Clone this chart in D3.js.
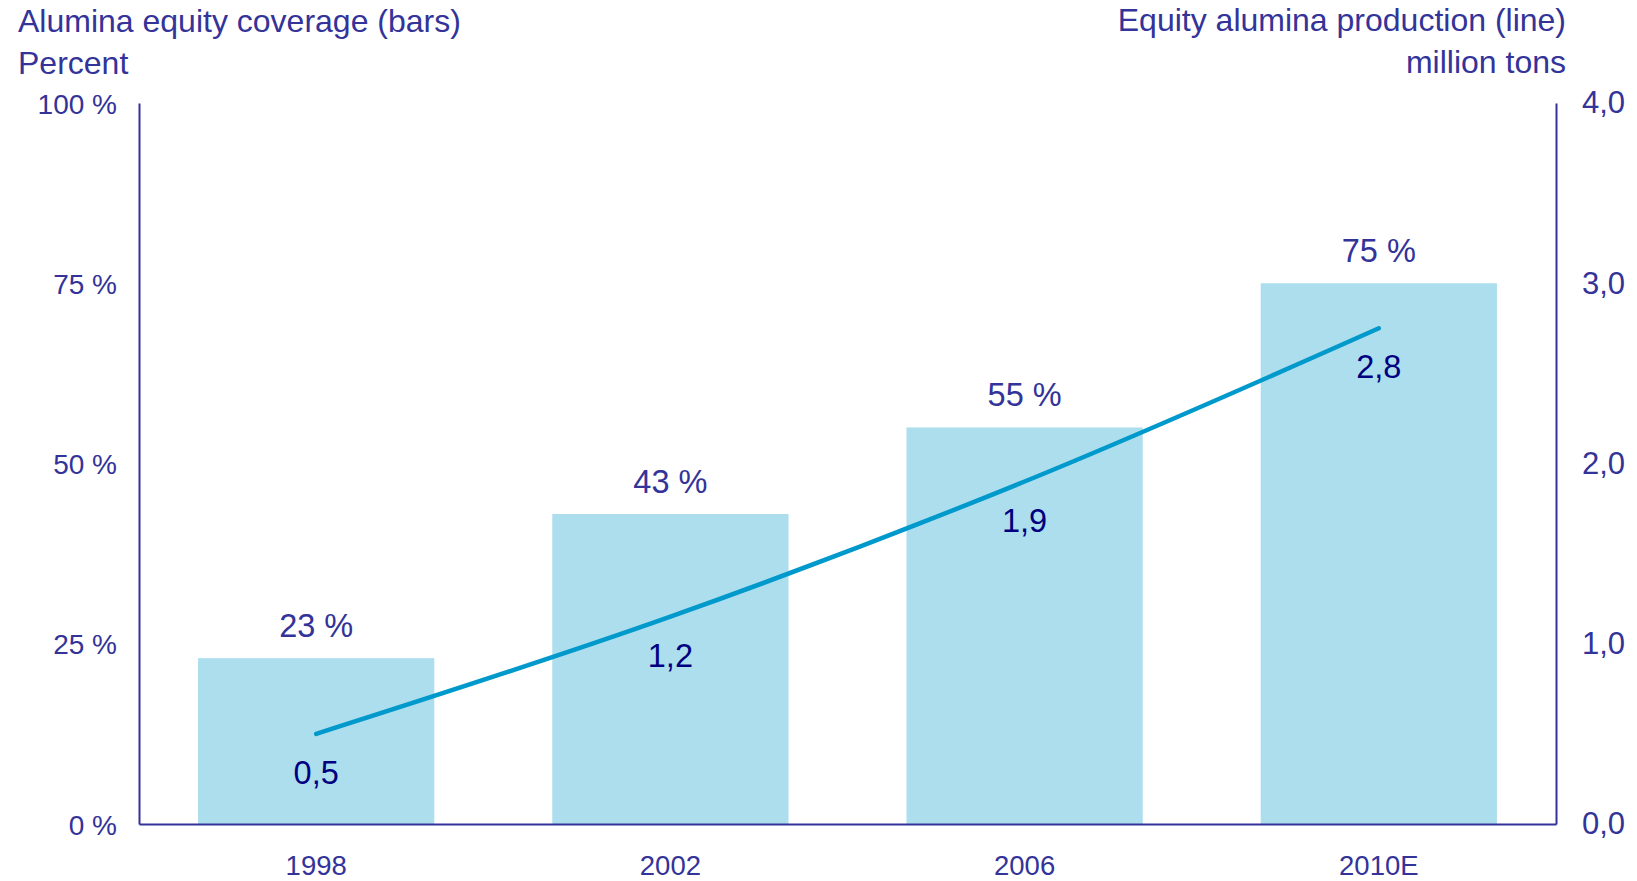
<!DOCTYPE html>
<html>
<head>
<meta charset="utf-8">
<script src="https://cdn.jsdelivr.net/npm/d3@7"></script>
<style>
  body { margin: 0; background: #fff; }
  svg text { font-family: "Liberation Sans", Arial, sans-serif; }
</style>
</head>
<body>
<svg width="1637" height="881"></svg>
<script>
// data
var years = ["1998", "2002", "2006", "2010E"];
var coverage = [23, 43, 55, 75];              // percent (bars)
var production = [0.5, 1.15, 1.9, 2.75];      // million tons (line)
var productionLabels = ["0,5", "1,2", "1,9", "2,8"];
var pctTicks = [0, 25, 50, 75, 100];
var tonTicks = [0, 1, 2, 3, 4];

var svg = d3.select("svg"),
    margin = {top: 103, right: 81, bottom: 57, left: 139},
    width = +svg.attr("width") - margin.left - margin.right,
    height = +svg.attr("height") - margin.top - margin.bottom,
    g = svg.append("g").attr("transform", "translate(" + margin.left + "," + margin.top + ")");

var ink = "#333399";

var x = d3.scaleBand()
    .domain(years)
    .range([0, width])
    .paddingInner(0.333)
    .paddingOuter(0.1667);

var yL = d3.scaleLinear().domain([0, 100]).range([height, 0]);
var yR = d3.scaleLinear().domain([0, 4]).range([height, 0]);

// bars
g.selectAll(".bar")
    .data(coverage)
    .enter().append("rect")
    .attr("class", "bar")
    .attr("x", function(d, i) { return x(years[i]); })
    .attr("y", function(d) { return yL(d); })
    .attr("width", x.bandwidth())
    .attr("height", function(d) { return height - yL(d); })
    .attr("fill", "#addeee");

// bar labels
g.selectAll(".barlabel")
    .data(coverage)
    .enter().append("text")
    .attr("x", function(d, i) { return x(years[i]) + x.bandwidth() / 2; })
    .attr("y", function(d) { return yL(d) - 21; })
    .attr("text-anchor", "middle")
    .attr("fill", ink)
    .style("font-size", "32.5px")
    .text(function(d) { return d + " %"; });

// axes
var left = g.append("g")
    .call(d3.axisLeft(yL).tickValues(pctTicks).tickSize(0).tickPadding(22)
        .tickFormat(function(d) { return d + " %"; }));

var right = g.append("g")
    .attr("transform", "translate(" + width + ",0)")
    .call(d3.axisRight(yR).tickValues(tonTicks).tickSize(0).tickPadding(26)
        .tickFormat(function(d) { return d3.format(".1f")(d).replace(".", ","); }));

var bottom = g.append("g")
    .attr("transform", "translate(0," + height + ")")
    .call(d3.axisBottom(x).tickSize(0).tickPadding(31));

[left, right, bottom].forEach(function(a) {
    a.select(".domain").attr("stroke", ink).attr("stroke-width", 2);
    a.selectAll("text").attr("fill", ink);
});
left.selectAll("text").style("font-size", "28px").attr("dy", "0.36em");
right.selectAll("text").style("font-size", "31px").attr("dy", "0.32em");
bottom.selectAll("text").style("font-size", "27.5px");

// line
var line = d3.line()
    .x(function(d, i) { return x(years[i]) + x.bandwidth() / 2; })
    .y(function(d) { return yR(d); })
    .curve(d3.curveCatmullRom.alpha(0.5));

g.append("path")
    .datum(production)
    .attr("fill", "none")
    .attr("stroke", "#0099cc")
    .attr("stroke-width", 4.5)
    .attr("stroke-linecap", "round")
    .attr("stroke-linejoin", "round")
    .attr("d", line);

// line labels
g.selectAll(".linelabel")
    .data(production)
    .enter().append("text")
    .attr("x", function(d, i) { return x(years[i]) + x.bandwidth() / 2; })
    .attr("y", function(d) { return yR(d) + 50; })
    .attr("text-anchor", "middle")
    .attr("fill", "#000080")
    .style("font-size", "32.5px")
    .text(function(d, i) { return productionLabels[i]; });

// titles
svg.append("text").attr("x", 18).attr("y", 32).attr("fill", ink)
    .style("font-size", "32px").text("Alumina equity coverage (bars)");
svg.append("text").attr("x", 18).attr("y", 74).attr("fill", ink)
    .style("font-size", "32px").text("Percent");
svg.append("text").attr("x", 1566).attr("y", 31).attr("fill", ink)
    .attr("text-anchor", "end").style("font-size", "32px").text("Equity alumina production (line)");
svg.append("text").attr("x", 1566).attr("y", 73).attr("fill", ink)
    .attr("text-anchor", "end").style("font-size", "32px").text("million tons");
</script>
</body>
</html>
